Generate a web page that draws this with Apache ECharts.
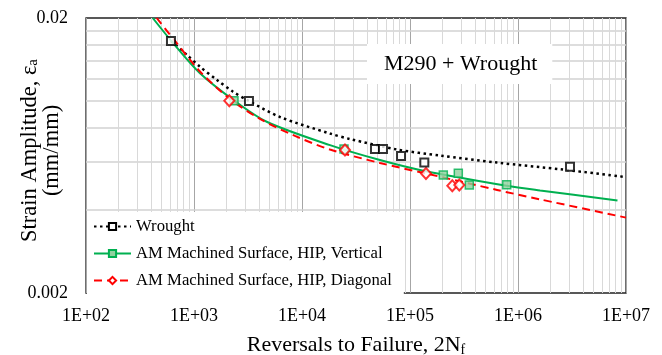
<!DOCTYPE html>
<html>
<head>
<meta charset="utf-8">
<script src="https://cdn.jsdelivr.net/npm/echarts@6/dist/echarts.min.js"></script>
<style>
  html, body { margin: 0; padding: 0; background: #fff; }
  #chart { width: 662px; height: 355px; }
</style>
</head>
<body>
<div id="chart"></div>
<script>
const SERIF = '"Liberation Serif", "Times New Roman", serif';

// Series names (legend order)
const seriesNames = [
  'Wrought',
  'AM Machined Surface, HIP, Vertical',
  'AM Machined Surface, HIP, Diagonal'
];

// Test points: reversals to failure (2Nf) and strain amplitude
const wroughtReversals = [612, 3228, 47400, 56200, 82600, 135700, 3030000];
const wroughtStrain    = [0.0165, 0.00998, 0.00668, 0.00668, 0.00630, 0.00597, 0.00575];

const verticalReversals = [2346, 24480, 203400, 280100, 354100, 786000];
const verticalStrain    = [0.01001, 0.00668, 0.00537, 0.00545, 0.00494, 0.00495];

const diagonalReversals = [2123, 25000, 140600, 246400, 286100];
const diagonalStrain    = [0.01001, 0.00662, 0.00544, 0.00491, 0.00494];

// Strain-life fit curves
const wroughtFitReversals = [612, 861, 1136, 1633, 2296, 3228, 6252, 18160, 27800, 75860, 189700, 639700, 2610000, 10000000];
const wroughtFitStrain    = [0.01650, 0.01467, 0.01330, 0.01190, 0.01079, 0.00998, 0.00873, 0.00760, 0.00726, 0.00665, 0.00632, 0.00596, 0.00562, 0.00528];

const verticalFitReversals = [415, 643, 1136, 2312, 4710, 18160, 52720, 132700, 785200, 1600000, 8340000];
const verticalFitStrain    = [0.0200, 0.01618, 0.01259, 0.01007, 0.00839, 0.00690, 0.00609, 0.00557, 0.00491, 0.00472, 0.00434];

const diagonalFitReversals = [451, 667, 1136, 2154, 4084, 8612, 18160, 52720, 140700, 639400, 1600000, 10000000];
const diagonalFitStrain    = [0.0200, 0.01650, 0.01278, 0.01015, 0.00859, 0.00745, 0.00665, 0.00594, 0.00544, 0.00474, 0.00438, 0.00376];

// Axis ticks and labels
const xTickLabels = ['1E+02', '1E+03', '1E+04', '1E+05', '1E+06', '1E+07'];
const yTickValues = [0.002, 0.02];
const yTickLabels = ['0.002', '0.02'];
const yGridValues = [0.004, 0.006, 0.008, 0.010, 0.012, 0.014, 0.016, 0.018];

// Minor decade gridlines (2..9 x 10^n)
const xMinorGrid = [];
for (let e = 2; e <= 6; e++) {
  for (let k = 2; k <= 9; k++) xMinorGrid.push(Number((k * Math.pow(10, e)).toPrecision(3)));
}

const pairs = (xs, ys) => xs.map((x, i) => [x, ys[i]]);

const gridLine = (values, key, color, width) => ({
  silent: true,
  animation: false,
  precision: 8,
  z: 1,
  symbol: ['none', 'none'],
  label: { show: false },
  emphasis: { disabled: true },
  lineStyle: { color, width, type: 'solid' },
  data: values.map(v => ({ [key]: v }))
});

const styles = {
  wrought: {
    symbol: 'rect', symbolSize: 8,
    itemStyle: { color: '#ffffff', borderColor: '#000000', borderWidth: 2 },
    lineStyle: { color: '#000000', width: 2.5, type: [2.5, 3.5] }
  },
  vertical: {
    symbol: 'rect', symbolSize: 8,
    itemStyle: { color: '#8fd19e', borderColor: '#00b050', borderWidth: 1.5 },
    lineStyle: { color: '#00b050', width: 2, type: 'solid' }
  },
  diagonal: {
    symbol: 'diamond', symbolSize: [10, 11],
    itemStyle: { color: '#ffffff', borderColor: '#ff0000', borderWidth: 2 },
    lineStyle: { color: '#ff0000', width: 2, type: [8, 5] }
  }
};

const fitSeries = (name, st, data) => ({
  type: 'line', name, data, smooth: 0.3,
  showSymbol: false, symbol: st.symbol, symbolSize: st.symbolSize,
  itemStyle: st.itemStyle, lineStyle: st.lineStyle,
  z: 2, silent: true, animation: false
});

const pointSeries = (name, st, data, extra) => Object.assign({
  type: 'scatter', name, data,
  symbol: st.symbol, symbolSize: st.symbolSize, itemStyle: st.itemStyle,
  z: 3, animation: false
}, extra || {});

const chart = echarts.init(document.getElementById('chart'), null, { renderer: 'canvas' });

chart.setOption({
  backgroundColor: '#ffffff',
  animation: false,
  title: {
    text: 'M290 + Wrought',
    left: 367, top: 44,
    padding: [9, 15, 9, 17],
    backgroundColor: '#ffffff',
    textStyle: { fontFamily: SERIF, fontSize: 22, fontWeight: 'normal', color: '#000' }
  },
  legend: {
    data: seriesNames,
    orient: 'vertical',
    left: 87, top: 212,
    padding: [6, 12, 6, 6],
    itemWidth: 37, itemHeight: 9, itemGap: 10,
    backgroundColor: '#ffffff',
    selectedMode: false,
    textStyle: { fontFamily: SERIF, fontSize: 16.7, color: '#000' }
  },
  grid: {
    left: 86, right: 36, top: 18, bottom: 62,
    containLabel: false,
    outerBoundsMode: 'none',
    show: true, borderColor: '#222', borderWidth: 1.3
  },
  xAxis: {
    type: 'log', logBase: 10, min: 100, max: 10000000,
    axisLine: { show: false },
    axisTick: { show: false },
    splitLine: { show: true, lineStyle: { color: '#a6a6a6', width: 1 } },
    axisLabel: {
      fontFamily: SERIF, fontSize: 18, color: '#000', margin: 14,
      formatter: v => xTickLabels[Math.round(Math.log10(v)) - 2] || ''
    },
    name: '{m|Reversals to Failure, 2N}{s|f}',
    nameLocation: 'middle', nameGap: 40,
    nameMoveOverlap: false,
    nameTextStyle: {
      fontFamily: SERIF, fontSize: 22, color: '#000',
      rich: {
        m: { fontFamily: SERIF, fontSize: 22, color: '#000', lineHeight: 24 },
        s: { fontFamily: SERIF, fontSize: 14, color: '#000', lineHeight: 9, verticalAlign: 'bottom' }
      }
    }
  },
  yAxis: {
    type: 'log', logBase: 10, min: 0.002, max: 0.02,
    axisLine: { show: false },
    axisTick: { show: false },
    splitLine: { show: false },
    axisLabel: {
      fontFamily: SERIF, fontSize: 18, color: '#000', margin: 18,
      showMinLabel: true, showMaxLabel: true, hideOverlap: false,
      formatter: v => {
        const i = yTickValues.findIndex(t => Math.abs(t - v) / t < 1e-6);
        return i >= 0 ? yTickLabels[i] : '';
      }
    },
    name: '{m|Strain Amplitude, ε}{s|a}\n{m|(mm/mm)}',
    nameLocation: 'middle', nameGap: 23, nameRotate: 90,
    nameMoveOverlap: false,
    nameTextStyle: {
      fontFamily: SERIF, fontSize: 22.5, color: '#000', lineHeight: 22,
      padding: [0, 0, 0, 10],
      rich: {
        m: { fontFamily: SERIF, fontSize: 22.5, color: '#000', lineHeight: 22 },
        s: { fontFamily: SERIF, fontSize: 15, color: '#000', lineHeight: 8, verticalAlign: 'bottom' }
      }
    }
  },
  series: [
    fitSeries(seriesNames[0], styles.wrought, pairs(wroughtFitReversals, wroughtFitStrain)),
    fitSeries(seriesNames[1], styles.vertical, pairs(verticalFitReversals, verticalFitStrain)),
    fitSeries(seriesNames[2], styles.diagonal, pairs(diagonalFitReversals, diagonalFitStrain)),
    pointSeries(seriesNames[1], styles.vertical, pairs(verticalReversals, verticalStrain),
      { markLine: gridLine(yGridValues, 'yAxis', '#d2d2d2', 1.5) }),
    pointSeries(seriesNames[2], styles.diagonal, pairs(diagonalReversals, diagonalStrain)),
    pointSeries(seriesNames[0], styles.wrought, pairs(wroughtReversals, wroughtStrain),
      { markLine: gridLine(xMinorGrid, 'xAxis', '#d9d9d9', 1) })
  ]
});
</script>
</body>
</html>
